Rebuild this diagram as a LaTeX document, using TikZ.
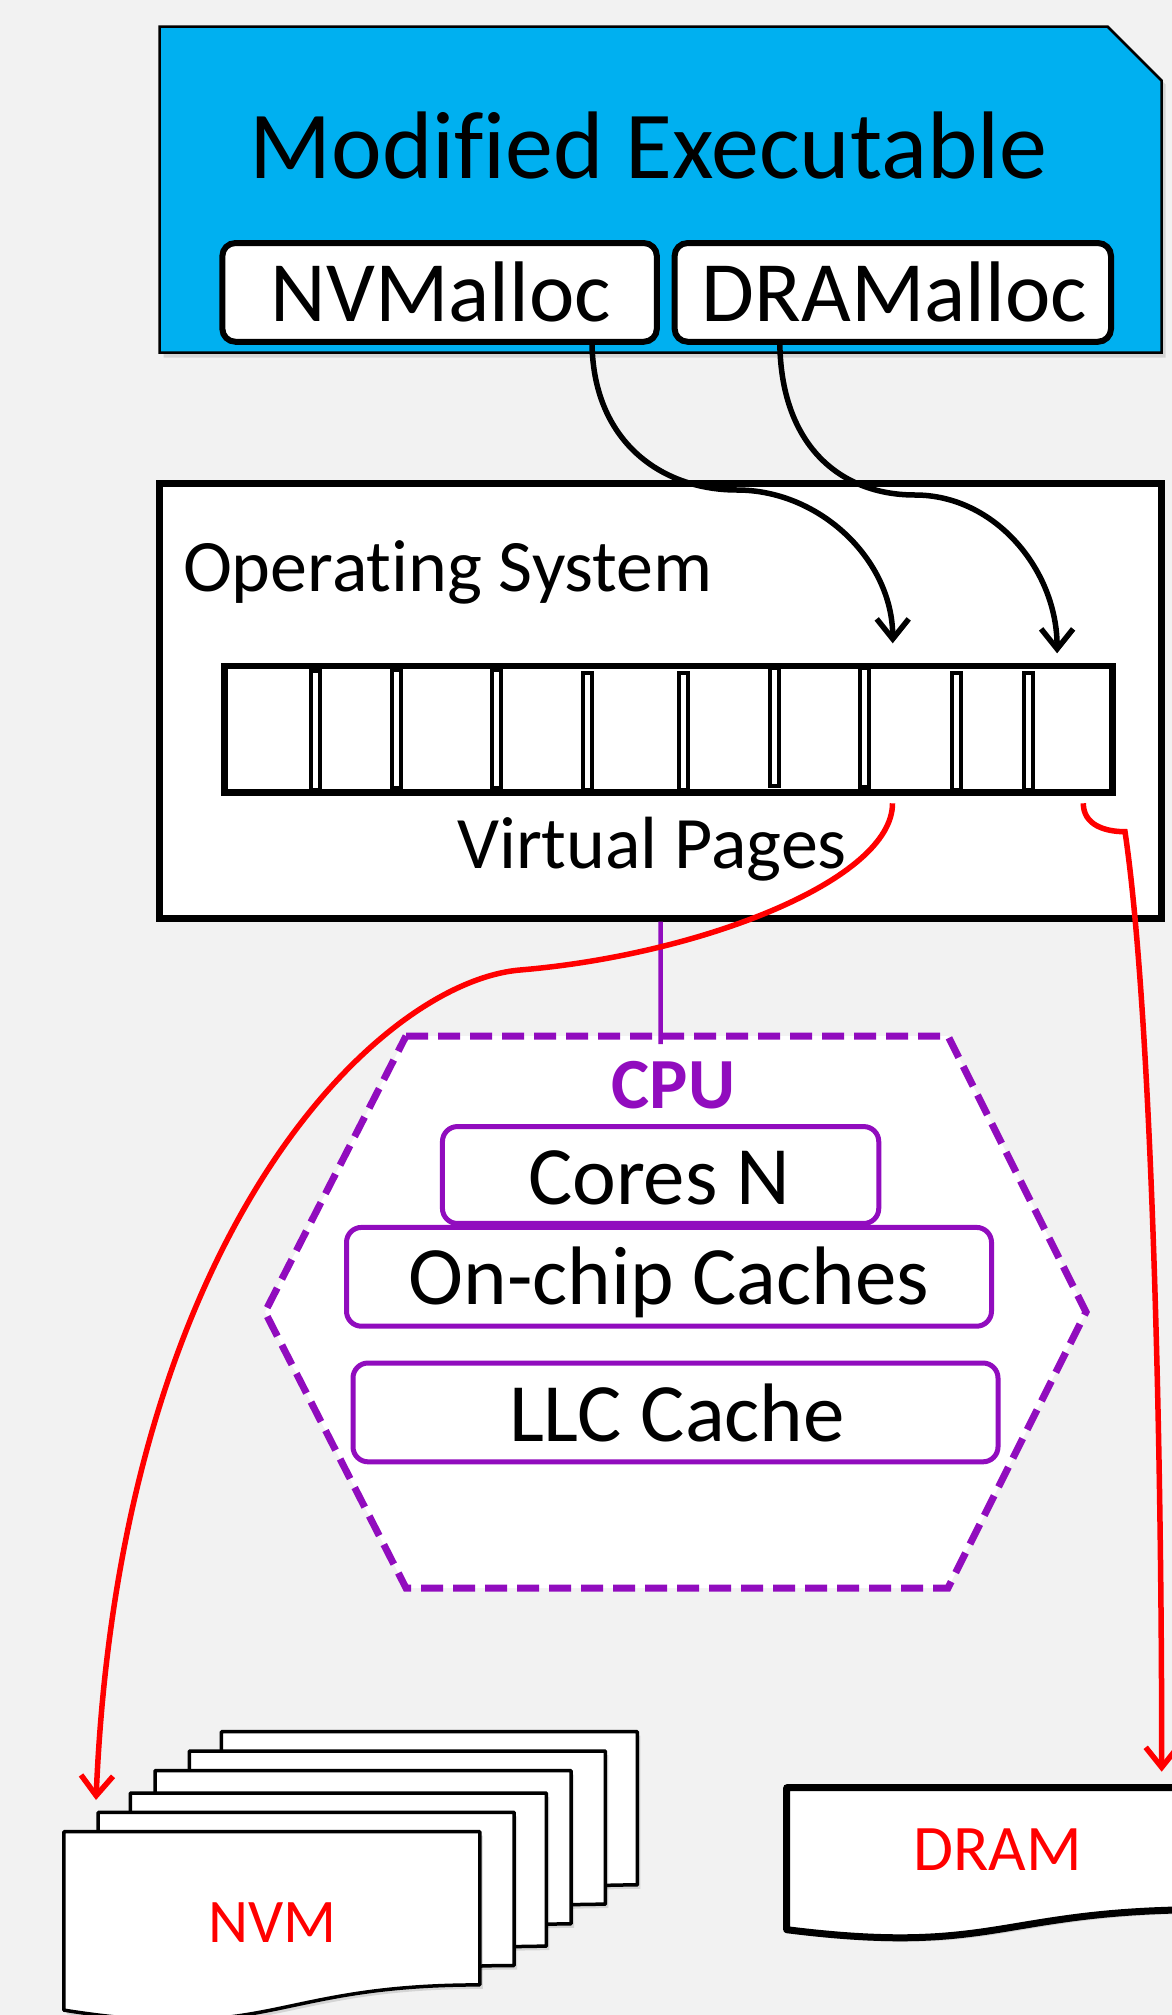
\documentclass[tikz,border=0pt]{standalone}
\usepackage{fontspec}
\setmainfont{Carlito}[Ligatures=NoCommon]
\usetikzlibrary{arrows.meta,calc}
\definecolor{bgcol}{HTML}{F2F2F2}
\definecolor{exeblue}{HTML}{00B0F0}
\definecolor{cpupurple}{RGB}{145,12,190}
\definecolor{memred}{HTML}{FF0000}
\newcommand\memdoc[5]{% style, x, y, W, h
  \path[#1] (#2,#3) -- ({#2+#4},#3) -- ({#2+#4},{#3+0.802*#5})
    .. controls ({#2+0.5*#4},{#3+0.802*#5}) and ({#2+0.5*#4},{#3+1.1075*#5}) ..
    (#2,{#3+0.934*#5}) -- cycle;}
\newcommand\fsz[1]{\fontsize{#1}{#1}\selectfont}
\begin{document}
\begin{tikzpicture}[x=1pt,y=-1pt,
  lbl/.style={inner sep=0pt, anchor=base, text=black},
  wbox/.style={draw=black, line width=6pt, fill=white, rounded corners=13pt, inner sep=0pt},
  pbox/.style={draw=cpupurple, line width=5pt, fill=white, rounded corners=15pt, inner sep=0pt},
  sqbox/.style={draw=black, line width=6.5pt, fill=white, inner sep=0pt},
  pagediv/.style={draw=black, line width=4pt, fill=white},
  barb/.style={-{Straight Barb[length=20pt,width=32pt,line width=5.5pt]}},
  blackarrow/.style={draw=black, line width=5.5pt, barb},
  redarrow/.style={draw=memred, line width=5.5pt, barb},
  docline/.style={draw=black, line width=3.5pt, fill=white, line join=round},
  dramline/.style={draw=black, line width=7pt, fill=white, line join=round},
  shadowfill/.style={fill=black, opacity=0.12}
]
\useasboundingbox (0,0) rectangle (1172,2015);
\clip (0,0) rectangle (1172,2015);
\fill[bgcol] (0,0) rectangle (1172,2015);

% ---- Modified Executable
\fill[shadowfill] (163.7,30.7) -- (1111.7,30.7) -- (1165.7,84.7) -- (1165.7,357.7) -- (163.7,357.7) -- cycle;
\draw[fill=exeblue, draw=black, line width=2.5pt] (159.7,26.7) -- (1107.7,26.7) -- (1161.7,80.7) -- (1161.7,352.7) -- (159.7,352.7) -- cycle;
\node[lbl] (title) at (648.5,178) {\fsz{96}Modified Executable};
\node[wbox, minimum width=434.5pt, minimum height=98.7pt] (nv) at (439.6,292.4) {};
\node[wbox, minimum width=436.4pt, minimum height=98.7pt] (dr) at (892.8,292.4) {};
\node[lbl] (nvt) at (441,321.7) {\fsz{86}NVMalloc};
\node[lbl] (drt) at (894.5,321.7) {\fsz{86}DRAMalloc};

% ---- Operating System
\node[sqbox, minimum width=1002pt, minimum height=435pt] (os) at (660.7,700.8) {};
\node[lbl, anchor=base west] (ost) at (182.8,591.7) {\fsz{74}Operating System};
\node[sqbox, minimum width=888pt, minimum height=126.3pt] (bar) at (668.3,729.2) {};
\foreach \x/\t/\b in {315.8/670.7/790, 396.7/670/788.3, 496.8/670/788.3, 587.7/673.3/790,
  683.8/673.3/790, 774.6/668.3/786, 864.8/668.3/787.3, 956.3/673.3/790, 1028.7/673.3/790}
  \draw[pagediv] (\x-4.5,\t) rectangle (\x+4.5,\b);
\node[lbl] (vpt) at (652,868.3) {\fsz{74}Virtual Pages};

% ---- CPU
\coordinate (cputop) at (660.5,1036);
\draw[cpupurple, line width=7pt, fill=white, dash pattern=on 22pt off 10pt]
  (406,1036) -- (948,1036) -- (1086,1312) -- (948,1588) -- (406,1588) -- (265,1312) -- cycle;
\draw[cpupurple, line width=4.5pt] (os.south) -- ([yshift=-8pt]cputop);
\node[lbl, text=cpupurple] (cput) at (673.5,1108.7) {\fsz{72}\bfseries CPU};
\node[pbox, minimum width=436.3pt, minimum height=96.9pt] (cores) at (660.6,1175) {};
\node[pbox, minimum width=645pt, minimum height=98.8pt] (onchip) at (669,1276.8) {};
\node[pbox, minimum width=645pt, minimum height=98.8pt] (llc) at (675.5,1412.4) {};
\node[lbl] (coret) at (659,1204.8) {\fsz{83}Cores N};
\node[lbl] (ont) at (669,1304.5) {\fsz{83}On-chip Caches};
\node[lbl] (llct) at (677,1441) {\fsz{83}LLC Cache};

% ---- NVM stack
\foreach \dx/\dy in {221.4/1731.7, 189.3/1751, 155/1770.7, 130.4/1793, 98.2/1812.3, 63.8/1831.7}{
  \memdoc{shadowfill}{\dx+3}{\dy+4}{416}{191}
  \memdoc{docline}{\dx}{\dy}{416}{191}
}
\node[lbl, text=memred] (nvmt) at (272.5,1942.3) {\fsz{62}NVM};
\coordinate (nvmin) at (96,1800);

% ---- DRAM
\memdoc{shadowfill}{790.7}{1791.7}{422}{152}
\memdoc{dramline}{786.7}{1787.7}{422}{152}
\node[lbl, text=memred] (dramt) at (997.7,1870.7) {\fsz{65}DRAM};
\coordinate (dramin) at (1161.7,1771.7);

% ---- black allocation arrows
\coordinate (a1s) at ([xshift=152.4pt,yshift=4pt]nv.south);
\coordinate (a1m) at (737,490);
\coordinate (a1e) at (892.7,643.3);
\coordinate (a2s) at ([xshift=-113pt,yshift=4pt]dr.south);
\coordinate (a2m) at (915,495);
\coordinate (a2e) at (1057.1,653.3);
\draw[blackarrow] (a1s) .. controls (592,440) and (660,490) .. (a1m)
  .. controls (820,490) and (892.7,560) .. (a1e);
\draw[blackarrow] (a2s) .. controls (780,443) and (838,495) .. (a2m)
  .. controls (995,495) and (1057.1,570) .. (a2e);

% ---- red mapping arrows
\coordinate (r1s) at (892.5,803.3);
\coordinate (r1m) at (520,970);
\coordinate (r2s) at (1083.3,803.3);
\coordinate (r2k) at (1125,831.7);
\draw[redarrow] (r1s) .. controls (892.5,880) and (700,955) .. (r1m)
  .. controls (380,982) and (120,1230) .. (nvmin);
\draw[redarrow] (r2s) .. controls (1083.3,825) and (1105,831.7) .. (r2k)
  .. controls (1150,1000) and (1161.7,1400) .. (dramin);
\end{tikzpicture}
\end{document}
